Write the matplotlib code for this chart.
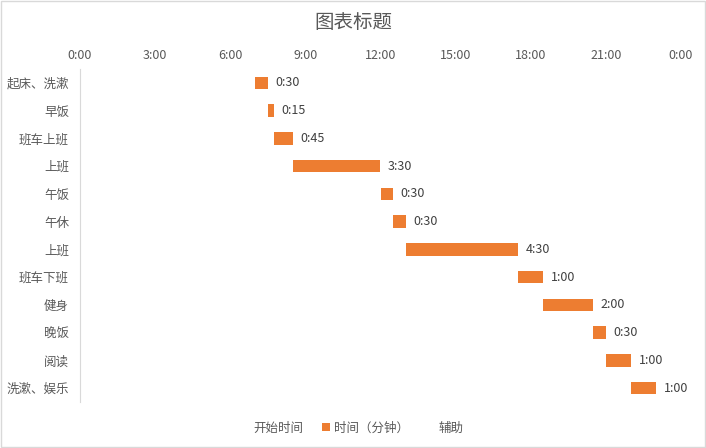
import matplotlib.pyplot as plt
from matplotlib.patches import Rectangle, Patch

plt.rcParams['font.family'] = ['Noto Sans CJK SC', 'DejaVu Sans']

# 数据
tasks = ['起床、洗漱', '早饭', '班车上班', '上班', '午饭', '午休',
         '上班', '班车下班', '健身', '晚饭', '阅读', '洗漱、娱乐']
start_times = ['7:00', '7:30', '7:45', '8:30', '12:00', '12:30',
               '13:00', '17:30', '18:30', '20:30', '21:00', '22:00']
durations = [30, 15, 45, 210, 30, 30, 270, 60, 120, 30, 60, 60]  # 分钟
tick_labels = ['0:00', '3:00', '6:00', '9:00', '12:00', '15:00', '18:00', '21:00', '0:00']


def to_hours(s):
    h, m = s.split(':')
    return int(h) + int(m) / 60


def fmt(minutes):
    return f'{minutes // 60}:{minutes % 60:02d}'


starts = [to_hours(s) for s in start_times]
widths = [d / 60 for d in durations]

fig = plt.figure(figsize=(7.06, 4.48), dpi=100)
ax = fig.add_axes([80 / 706, 46 / 448, 601 / 706, 333 / 448])

ypos = list(range(len(tasks)))
ax.barh(ypos, widths, left=starts, height=0.45, color='#ED7D31', zorder=2)
for y, s, w, d in zip(ypos, starts, widths, durations):
    ax.text(s + w + 0.3, y, fmt(d), va='center', ha='left', fontsize=9, color='#404040')

ax.set_xlim(0, 24)
ax.set_ylim(len(tasks) - 0.5, -0.5)
ax.set_xticks(range(0, 25, 3))
ax.set_xticklabels(tick_labels)
ax.xaxis.tick_top()
ax.set_yticks(ypos)
ax.set_yticklabels(tasks)
ax.tick_params(axis='both', length=0, labelsize=9, labelcolor='#595959')
ax.tick_params(axis='x', pad=5)
ax.tick_params(axis='y', pad=8)
for side in ['top', 'right', 'bottom']:
    ax.spines[side].set_visible(False)
ax.spines['left'].set_color('#D9D9D9')

fig.text(0.5, 1 - 23 / 448, '图表标题', ha='center', va='center', fontsize=14, color='#595959')

# 图例
handles = [Patch(facecolor='none', edgecolor='none'),
           Patch(facecolor='#ED7D31', edgecolor='none'),
           Patch(facecolor='none', edgecolor='none')]
fig.legend(handles, ['开始时间', '时间（分钟）', '辅助'], loc='center',
           bbox_to_anchor=(0.5, 1 - 428 / 448), ncol=3, frameon=False,
           fontsize=9, labelcolor='#595959', handlelength=0.6, handleheight=0.6,
           handletextpad=0.3, columnspacing=1.5)

fig.add_artist(Rectangle((0.002, 0.002), 0.996, 0.996, transform=fig.transFigure,
                         fill=False, edgecolor='#D9D9D9', linewidth=1))

fig.savefig('out.png', dpi=100)
